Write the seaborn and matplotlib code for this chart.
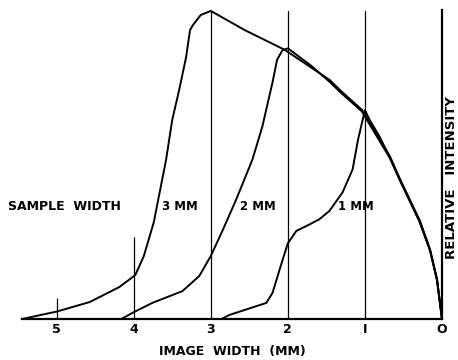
import matplotlib
matplotlib.use("Agg")
import matplotlib.pyplot as plt
import seaborn as sns
import pandas as pd

# image width (mm) and relative intensity
width_3mm = [5.45, 5.0, 4.57, 4.19, 3.98, 3.87, 3.74, 3.58, 3.50, 3.41, 3.32, 3.27,
             3.23, 3.13, 3.0, 2.56, 2.04, 1.46, 1.32, 1.04, 0.675, 0.54, 0.29,
             0.156, 0.065, 0.0]
inten_3mm = [0.0, 2.4, 5.5, 10.3, 14.2, 20.3, 31.3, 51.6, 64.5, 74.2, 84.8, 93.5,
             95.2, 98.4, 99.7, 93.5, 87.1, 77.4, 74.0, 67.7, 52.6, 45.0, 32.0,
             22.6, 12.9, 0.0]

width_2mm = [4.16, 4.0, 3.76, 3.37, 3.15, 3.0, 2.85, 2.67, 2.46, 2.33, 2.20, 2.14,
             2.07, 2.0, 1.70, 1.46, 1.32, 1.04, 0.675, 0.54, 0.29, 0.156, 0.065, 0.0]
inten_2mm = [0.0, 2.2, 5.2, 9.0, 13.9, 20.4, 28.5, 38.7, 51.6, 62.4, 76.5, 83.9,
             87.0, 87.6, 82.0, 76.8, 73.4, 67.2, 52.0, 44.6, 31.6, 22.3, 12.7, 0.0]

width_1mm = [2.86, 2.76, 2.28, 2.20, 2.07, 2.0, 1.89, 1.72, 1.59, 1.46, 1.29, 1.16,
             1.09, 1.0, 0.94, 0.81, 0.675, 0.54, 0.29, 0.156, 0.065, 0.0]
inten_1mm = [0.0, 1.3, 5.2, 8.4, 19.0, 24.5, 28.5, 30.6, 32.3, 35.0, 41.0, 48.4,
             58.0, 67.6, 64.5, 59.0, 52.2, 44.6, 31.4, 22.2, 12.6, 0.0]

sample_labels = ["3 MM", "2 MM", "1 MM"]
tick_values = [5, 4, 3, 2, 1, 0]
tick_labels = ["5", "4", "3", "2", "I", "O"]
full_markers = [1, 2, 3]
short_markers = [(5, 6.8), (4, 26.5)]

frames = []
for lab, xs, ys in zip(sample_labels, [width_3mm, width_2mm, width_1mm],
                       [inten_3mm, inten_2mm, inten_1mm]):
    frames.append(pd.DataFrame({"width": xs, "intensity": ys, "sample": lab}))
df = pd.concat(frames, ignore_index=True)

sns.set_theme(style="white")
plt.rcParams["font.family"] = ["DejaVu Sans"]
plt.rcParams["text.color"] = "black"
plt.rcParams["axes.labelcolor"] = "black"
plt.rcParams["xtick.color"] = "black"

fig = plt.figure(figsize=(4.58, 3.6), dpi=100)
ax = fig.add_axes([22 / 458, 41 / 360, 420 / 458, 309 / 360])

for lab in sample_labels:
    sub = df[df["sample"] == lab]
    sns.lineplot(data=sub, x="width", y="intensity", sort=False, estimator=None,
                 color="black", linewidth=1.4, ax=ax, legend=False)

for xv in full_markers:
    ax.axvline(xv, ymin=0, ymax=0.997, color="black", linewidth=0.9)
for xv, top in short_markers:
    ax.vlines(xv, 0, top, color="black", linewidth=0.9)

ax.set_xlim(5.45, 0)
ax.set_ylim(0, 100)
for s in ["top", "left"]:
    ax.spines[s].set_visible(False)
ax.spines["bottom"].set_linewidth(1.6)
ax.spines["right"].set_linewidth(1.6)
ax.spines["bottom"].set_color("black")
ax.spines["right"].set_color("black")

ax.set_xticks(tick_values)
ax.set_xticklabels(tick_labels, fontweight="bold", fontsize=9)
ax.tick_params(axis="x", length=0, pad=3)
ax.set_yticks([])
ax.set_xlabel("IMAGE  WIDTH  (MM)", fontweight="bold", fontsize=9, labelpad=6)
ax.set_ylabel("")

fig.text(8 / 458, 1 - 207 / 360, "SAMPLE  WIDTH", fontweight="bold", fontsize=9,
         va="center", ha="left")
label_px = [162, 240, 338]
for lab, px in zip(sample_labels, label_px):
    fig.text(px / 458, 1 - 207 / 360, lab, fontweight="bold", fontsize=8.5,
             va="center", ha="left")
fig.text(458 / 458, 1 - 178 / 360, "RELATIVE   INTENSITY", rotation=90,
         fontweight="bold", fontsize=9.5, va="center", ha="right")

fig.savefig("out.png", dpi=100)
